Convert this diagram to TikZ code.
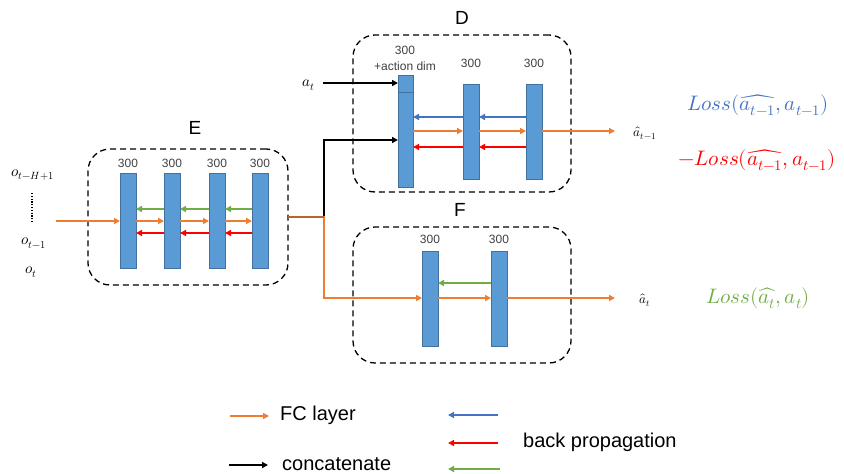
\documentclass[tikz,border=0pt]{standalone}
\usepackage{fontspec}
\usepackage{unicode-math}
\setmainfont{Liberation Sans}
\setmathfont{Latin Modern Math}
\usetikzlibrary{arrows.meta}
\definecolor{barfill}{HTML}{5B9BD5}
\definecolor{bardraw}{HTML}{41719C}
\definecolor{fcor}{HTML}{ED7D31}
\definecolor{bpblue}{HTML}{4472C4}
\definecolor{bpred}{HTML}{FF0000}
\definecolor{bpgreen}{HTML}{70AD47}
\definecolor{mixbr}{HTML}{B8642A}
\tikzset{
  bar/.style={draw=bardraw, fill=barfill, line width=0.6pt, minimum width=16pt, minimum height=95pt, inner sep=0pt, outer sep=0pt},
  dbox/.style={draw, dash pattern=on 6pt off 4pt, line width=1.3pt, rounded corners=22pt, inner sep=0pt},
  tip/.style={-{Triangle[length=6pt,width=6pt]}},
  fc/.style={tip, draw=fcor, line width=1.8pt},
  concat/.style={tip, draw=black, line width=1.8pt},
  bpb/.style={tip, draw=bpblue, line width=1.8pt},
  bpr/.style={tip, draw=bpred, line width=1.8pt},
  bpg/.style={tip, draw=bpgreen, line width=1.8pt},
  num/.style={font=\fontsize{12}{13}\selectfont, text=black!75, inner sep=0pt},
  ttl/.style={font=\fontsize{19}{21}\selectfont, inner sep=0pt},
  leg/.style={font=\fontsize{20}{22}\selectfont, inner sep=0pt, anchor=west},
  mth/.style={font=\fontsize{15}{17}\selectfont, inner sep=0pt},
  mths/.style={font=\fontsize{13}{15}\selectfont, inner sep=0pt},
  loss/.style={font=\fontsize{21}{24}\selectfont, inner sep=0pt},
}
\begin{document}
\begin{tikzpicture}[x=1pt,y=-1pt]
\useasboundingbox (0,0) rectangle (844,474);
% boxes
\node[dbox, minimum width=200pt, minimum height=136pt] (E) at (188,217) {};
\node[dbox, minimum width=218pt, minimum height=157pt] (D) at (462,113.5) {};
\node[dbox, minimum width=218pt, minimum height=136pt] (F) at (462,295) {};
\node[ttl] (Et) at (195,128) {E};
\node[ttl] (Dt) at (462,18) {D};
\node[ttl] (Ft) at (460,210) {F};
% E bars
\node[bar] (e1) at (128,220.5) {};
\node[bar] (e2) at (172,220.5) {};
\node[bar] (e3) at (217,220.5) {};
\node[bar] (e4) at (260,220.5) {};
\foreach \b in {e1,e2,e3,e4} \node[num] at ([yshift=10pt]\b.north) {300};
% D bars
\node[bar, minimum width=15pt, minimum height=112pt] (d1) at (405.5,131) {};
\draw[bardraw, line width=0.6pt] (d1.west |- 0,92) coordinate (d1div) -- (d1.east |- 0,92);
\node[bar] (d2) at (471,131.5) {};
\node[bar] (d3) at (534,131.5) {};
\node[num] (d1a) at (405,50) {300};
\node[num] (d1b) at (405,66) {+action dim};
\node[num] (d2l) at (471,63) {300};
\node[num] (d3l) at (534,63) {300};
% F bars
\node[bar] (f1) at (430,298.5) {};
\node[bar] (f2) at (499,298.5) {};
\node[num] (f1l) at (430,239) {300};
\node[num] (f2l) at (499,239) {300};
% inputs
\node[mth] (oH) at (33,175) {$o_{t-H+1}$};
\node[mth] (o1) at (34,243) {$o_{t-1}$};
\node[mth] (ot) at (31,272) {$o_t$};
\coordinate (dtop) at (32,193);
\coordinate (dbot) at (32,222);
\draw[line width=1.4pt, dash pattern=on 1.2pt off 1.6pt] (dtop) -- (dbot);
\coordinate (ein) at (56,221);
\draw[fc] (ein) -- (e1.west |- ein);
% E internal arrows
\foreach \a/\b in {e1/e2,e2/e3,e3/e4}{
  \draw[fc] (\a.east |- 0,221) -- (\b.west |- 0,221);
  \draw[bpg] (\b.west |- 0,209) -- (\a.east |- 0,209);
  \draw[bpr] (\b.west |- 0,233) -- (\a.east |- 0,233);
}
% split
\coordinate (split) at (324,217);
\coordinate (eout) at (288,217);
\draw[concat] (eout) -- (split) |- (d1.west |- 0,140);
\draw[fc] (eout) -- (split) |- (f1.west |- 0,298);
\draw[mixbr, line width=1.8pt] (eout) -- (split);
% a_t
\node[mth] (at) at (309,85) {$a_t$};
\coordinate (atstart) at (323,83);
\draw[concat] (atstart) -- (d1.west |- atstart);
% D internal arrows
\foreach \a/\b in {d1/d2,d2/d3}{
  \draw[fc] (\a.east |- 0,131) -- (\b.west |- 0,131);
  \draw[bpb] (\b.west |- 0,117) -- (\a.east |- 0,117);
  \draw[bpr] (\b.west |- 0,147) -- (\a.east |- 0,147);
}
\node[mths] (ahat1) at (645,133) {$\hat{a}_{t-1}$};
\coordinate (dout) at (615,131);
\draw[fc] (d3.east |- dout) -- (dout);
% F internal arrows
\draw[fc] (f1.east |- 0,298) -- (f2.west |- 0,298);
\draw[bpg] (f2.west |- 0,283) -- (f1.east |- 0,283);
\node[mths] (ahat) at (645,300) {$\hat{a}_{t}$};
\coordinate (fout) at (615,298);
\draw[fc] (f2.east |- fout) -- (fout);
% losses
\node[loss, text=bpblue] (l1) at (758,105) {$\symit{Loss}(\widehat{a_{t-1}},a_{t-1})$};
\node[loss, text=bpred] (l2) at (757,160) {$-\symit{Loss}(\widehat{a_{t-1}},a_{t-1})$};
\node[loss, text=bpgreen] (l3) at (758,298) {$\symit{Loss}(\widehat{a_{t}},a_{t})$};
% legend
\coordinate (lg1a) at (230,416); \coordinate (lg1b) at (269,416);
\draw[fc, line width=1.5pt] (lg1a) -- (lg1b);
\node[leg] (lfc) at (280,415) {FC layer};
\coordinate (lg2a) at (229,465); \coordinate (lg2b) at (268,465);
\draw[concat, line width=1.5pt] (lg2a) -- (lg2b);
\node[leg] (lcc) at (282,464) {concatenate};
\coordinate (lb1) at (498,415); \coordinate (lb2) at (448,415);
\draw[bpb, line width=1.5pt] (lb1) -- (lb2);
\coordinate (lr1) at (498,443); \coordinate (lr2) at (448,443);
\draw[bpr, line width=1.5pt] (lr1) -- (lr2);
\coordinate (lgg1) at (500,469); \coordinate (lgg2) at (448,469);
\draw[bpg, line width=1.5pt] (lgg1) -- (lgg2);
\node[leg] (lbp) at (523,442) {back propagation};
\end{tikzpicture}
\end{document}
